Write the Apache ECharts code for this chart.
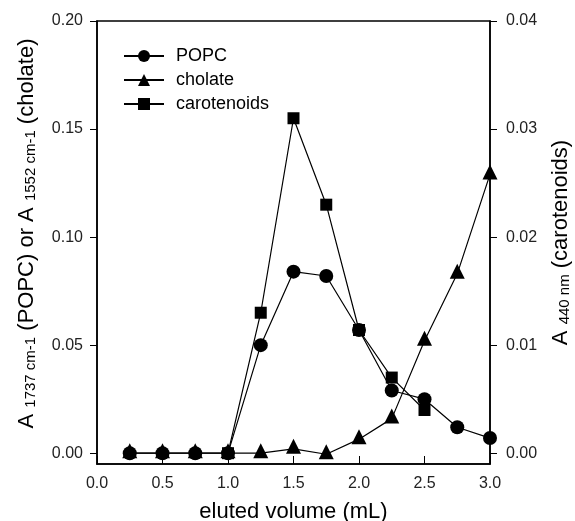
<!DOCTYPE html>
<html>
<head>
<meta charset="utf-8">
<script src="https://cdn.jsdelivr.net/npm/echarts@6/dist/echarts.min.js"></script>
<style>html,body{margin:0;padding:0;background:#fff;}#c{width:575px;height:521px;}</style>
</head>
<body>
<div id="c"></div>
<script>
// Data
const xPopc = [0.25, 0.5, 0.75, 1.0, 1.25, 1.5, 1.75, 2.0, 2.25, 2.5, 2.75, 3.0];
const popc = [0, 0, 0, 0, 0.050, 0.084, 0.082, 0.057, 0.029, 0.025, 0.012, 0.007];
const xCholate = [0.25, 0.5, 0.75, 1.0, 1.25, 1.5, 1.75, 2.0, 2.25, 2.5, 2.75, 3.0];
const cholate = [0, 0, 0, 0, 0, 0.002, -0.0005, 0.0065, 0.016, 0.052, 0.083, 0.129];
const xCarot = [1.0, 1.25, 1.5, 1.75, 2.0, 2.25, 2.5];
const carotenoids = [0, 0.013, 0.031, 0.023, 0.0114, 0.0070, 0.0040];
const leftTicks = [0, 0.05, 0.10, 0.15, 0.20];
const rightTicks = [0, 0.01, 0.02, 0.03, 0.04];
const seriesNames = ['POPC', 'cholate', 'carotenoids'];

const pair = (xs, ys) => xs.map((x, i) => [x, ys[i]]);
const font = 'Liberation Sans, Arial, sans-serif';

const chart = echarts.init(document.getElementById('c'), null, {renderer: 'canvas'});
const lineStyle = {color: '#000', width: 1.2};
const itemStyle = {color: '#000'};
const richName = {
  m: {fontSize: 22, fontFamily: font, color: '#000', verticalAlign: 'bottom', lineHeight: 25},
  s: {fontSize: 15, fontFamily: font, color: '#000', verticalAlign: 'bottom', lineHeight: 19}
};
chart.setOption({
  animation: false,
  backgroundColor: '#fff',
  textStyle: {fontFamily: font},
  grid: {left: 97, right: 85, top: 21, bottom: 57, outerBoundsMode: 'none', containLabel: false,
         show: true, borderColor: '#000', borderWidth: 1.5, backgroundColor: 'transparent'},
  legend: {
    data: seriesNames,
    orient: 'vertical',
    left: 118, top: 42,
    itemWidth: 40, itemHeight: 15, itemGap: 6,
    textStyle: {fontFamily: font, fontSize: 18, color: '#000', padding: [0,0,0,7]}
  },
  xAxis: {
    type: 'value', min: 0, max: 3, interval: 0.5,
    axisLine: {show: true, onZero: false, lineStyle: {color: '#000', width: 1.5}},
    axisTick: {show: true, inside: true, length: 8, lineStyle: {color: '#000'}},
    axisLabel: {fontSize: 16, color: '#222', margin: 12, formatter: v => v.toFixed(1)},
    splitLine: {show: false},
    name: 'eluted volume (mL)', nameLocation: 'middle', nameGap: 37,
    nameTextStyle: {fontSize: 22, color: '#000', fontFamily: font}
  },
  yAxis: [{
    type: 'value', min: -0.005, max: 0.2,
    axisLine: {show: true, onZero: false, lineStyle: {color: '#000', width: 1.5}},
    axisTick: {show: true, inside: false, length: 7, customValues: leftTicks, lineStyle: {color: '#000'}},
    axisLabel: {fontSize: 16, color: '#222', margin: 14, customValues: leftTicks, formatter: v => v.toFixed(2)},
    splitLine: {show: false},
    name: '{m|A }{s|1737 cm-1}{m| (POPC) or A }{s|1552 cm-1}{m| (cholate)}',
    nameLocation: 'middle', nameRotate: 90, nameGap: 59,
    nameTextStyle: {fontFamily: font, color: '#000', rich: richName, padding: [0, 0, 0, 18]}
  }, {
    type: 'value', min: -0.001, max: 0.04, position: 'right',
    axisLine: {show: true, onZero: false, lineStyle: {color: '#000', width: 1.5}},
    axisTick: {show: true, inside: false, length: 7, customValues: rightTicks, lineStyle: {color: '#000'}},
    axisLabel: {fontSize: 16, color: '#222', margin: 16, customValues: rightTicks, formatter: v => v.toFixed(2)},
    splitLine: {show: false},
    name: '{m|A }{s|440 nm}{m| (carotenoids)}',
    nameLocation: 'middle', nameRotate: 90, nameGap: 57,
    nameTextStyle: {fontFamily: font, color: '#000', rich: richName}
  }],
  series: [{
    name: 'POPC', type: 'line', yAxisIndex: 0, z: 3,
    data: pair(xPopc, popc),
    symbol: 'circle', symbolSize: 14,
    lineStyle, itemStyle
  }, {
    name: 'cholate', type: 'line', yAxisIndex: 0, z: 2,
    data: pair(xCholate, cholate),
    symbol: 'triangle', symbolSize: 15, symbolOffset: [0, -2.5],
    lineStyle, itemStyle
  }, {
    name: 'carotenoids', type: 'line', yAxisIndex: 1, z: 4,
    data: pair(xCarot, carotenoids),
    symbol: 'rect', symbolSize: 12,
    lineStyle, itemStyle
  }]
});
</script>
</body>
</html>
